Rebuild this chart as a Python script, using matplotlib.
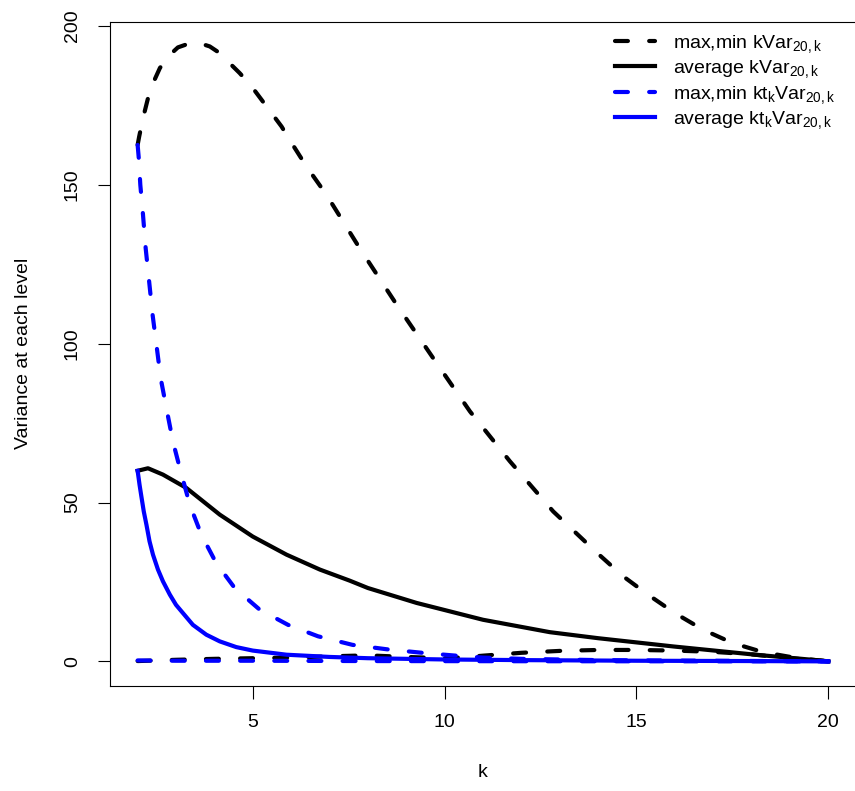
import matplotlib
matplotlib.use("Agg")
import matplotlib.pyplot as plt

plt.rcParams['font.family'] = ['Liberation Sans', 'DejaVu Sans']
plt.rcParams['mathtext.fontset'] = 'custom'
plt.rcParams['mathtext.rm'] = 'Liberation Sans'
plt.rcParams['mathtext.it'] = 'Liberation Sans:italic'

# max,min kVar (upper branch)
k_max_k = [2, 2.04, 2.14, 2.27, 2.4, 2.58, 2.79, 3.05, 3.36, 3.62, 3.88, 4.14, 4.4, 4.66,
           4.97, 5.23, 5.49, 5.75, 5.96, 6.4, 6.92, 7.79, 8.75, 9.7, 10.66, 11.7, 12.83,
           13.96, 14.65, 15.3, 16.0, 16.73, 17.5, 18.3, 19.2, 20]
max_k = [162.6, 165.2, 171, 177.3, 182, 186.8, 190.4, 193.3, 194.6, 194.6, 193.6, 191.5,
         188.3, 185.2, 181, 176.8, 172.6, 168.4, 164.2, 155.8, 146.9, 130, 112.3, 95.5,
         78.7, 63, 47.2, 34.3, 26.8, 21, 15.2, 10, 5.8, 2.9, 1.0, 0]
# max,min kVar (lower branch)
k_min_k = [2, 3, 4, 5, 6, 7, 8, 9, 10, 10.5, 11, 12, 13, 14, 15, 16, 17, 18, 19, 20]
min_k = [0.1, 0.5, 0.8, 1.0, 1.2, 1.6, 1.9, 1.4, 1.0, 1.3, 1.8, 2.7, 3.3, 3.6, 3.6, 3.4,
         3.0, 2.2, 1.0, 0]
# average kVar
k_avg_k = [2, 2.27, 2.66, 3.27, 4.14, 5, 5.88, 6.75, 7.53, 8, 9.27, 11, 12.74, 14, 15.96,
           18.1, 19.86, 20]
avg_k = [60, 60.8, 58.8, 54.6, 46.2, 39.3, 33.6, 28.9, 25.4, 23.1, 18.4, 13.1, 9.2, 7.3,
         4.7, 2.1, 0.2, 0]
# max,min kt_k Var (upper branch)
k_max_kt = [2, 2.03, 2.07, 2.14, 2.21, 2.3, 2.39, 2.49, 2.6, 2.75, 2.92, 3.1, 3.36, 3.66,
            4.05, 4.53, 5.18, 5.92, 6.7, 7.6, 8.5, 9.5, 10.3, 11, 12, 14, 17, 20]
max_kt = [162.6, 158.4, 150, 140.6, 130, 119.6, 109.1, 99.7, 89.2, 79.7, 69.2, 60.8, 49.3,
          39.9, 30.9, 23.1, 16.3, 11.5, 7.9, 5.2, 3.8, 2.6, 1.8, 1.2, 0.8, 0.4, 0.2, 0]
# max,min kt_k Var (lower branch)
k_min_kt = [2, 3, 5, 8, 12, 20]
min_kt = [0.3, 0.2, 0.2, 0.1, 0.05, 0]
# average kt_k Var
k_avg_kt = [2, 2.05, 2.09, 2.16, 2.23, 2.31, 2.4, 2.53, 2.66, 2.84, 3.0, 3.23, 3.44, 3.79,
            4.14, 4.57, 5, 5.88, 7, 8, 10, 12, 15, 18, 20]
avg_kt = [60, 55.6, 52.5, 47.2, 43, 37.8, 33.6, 28.9, 25.2, 21, 17.8, 14.5, 11.5, 8.4, 6.3,
          4.5, 3.4, 2.1, 1.4, 1.0, 0.6, 0.4, 0.2, 0.1, 0]

fig = plt.figure(figsize=(8.55, 7.91), dpi=100)
ax = fig.add_axes([110 / 855, 1 - 686 / 791, 746 / 855, (686 - 21.5) / 791])

lw = 3
dash = dict(linestyle=(0, (3.1, 5.1)), dash_capstyle='round')
ax.plot(k_max_k, max_k, color='black', lw=lw, **dash, label=r'max,min kVar$_{\mathrm{20,k}}$')
ax.plot(k_min_k, min_k, color='black', lw=lw, **dash)
ax.plot(k_avg_k, avg_k, color='black', lw=lw, label=r'average kVar$_{\mathrm{20,k}}$')
ax.plot(k_max_kt, max_kt, color='#0000ff', lw=lw, **dash,
        label=r'max,min kt$_{\mathrm{k}}$Var$_{\mathrm{20,k}}$')
ax.plot(k_min_kt, min_kt, color='#0000ff', lw=lw, **dash)
ax.plot(k_avg_kt, avg_kt, color='#0000ff', lw=lw,
        label=r'average kt$_{\mathrm{k}}$Var$_{\mathrm{20,k}}$')

ax.set_xlim(1.28, 20.72)
ax.set_ylim(-7.75, 201.45)
ax.set_xticks([5, 10, 15, 20])
ax.set_yticks([0, 50, 100, 150, 200])
ax.tick_params(length=9, width=0.8, labelsize=14, pad=11)
ax.tick_params(axis='y', pad=12)
for lab in ax.get_yticklabels():
    lab.set_rotation(90)
    lab.set_va('center')
for s in ax.spines.values():
    s.set_linewidth(0.8)

ax.set_xlabel('k', fontsize=14, labelpad=24)
ax.set_ylabel('Variance at each level', fontsize=14, labelpad=23)

ax.legend(loc='upper left', bbox_to_anchor=((615 - 110) / 746, (686 - 33) / 664.5),
          frameon=False, fontsize=14, handlelength=2.05, handletextpad=0.95,
          labelspacing=0.18, borderaxespad=0, borderpad=0)

fig.savefig('out.png', dpi=100)
